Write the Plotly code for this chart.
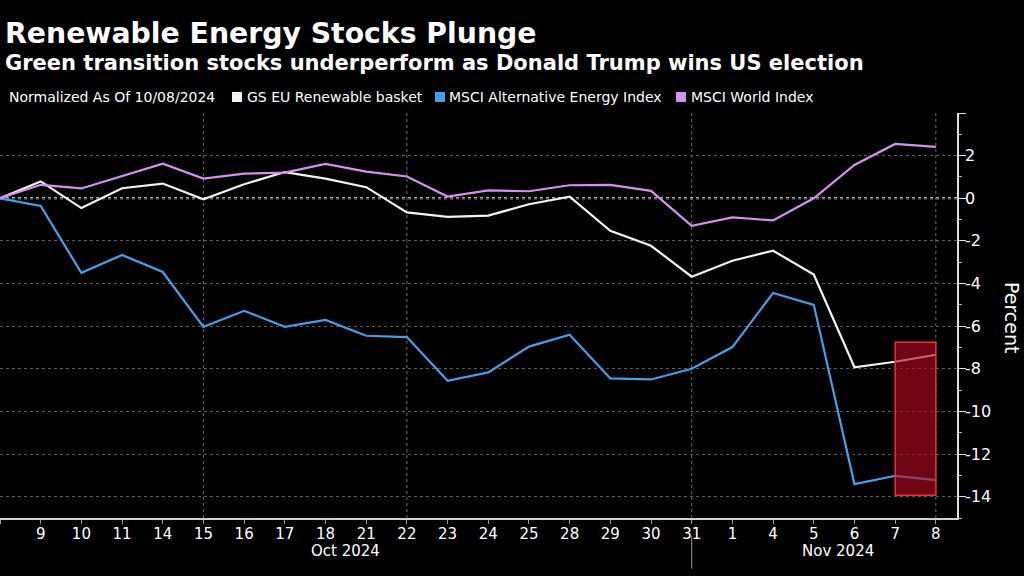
import plotly.graph_objects as go

dates = ["2024-10-08", "2024-10-09", "2024-10-10", "2024-10-11", "2024-10-14", "2024-10-15",
         "2024-10-16", "2024-10-17", "2024-10-18", "2024-10-21", "2024-10-22", "2024-10-23",
         "2024-10-24", "2024-10-25", "2024-10-28", "2024-10-29", "2024-10-30", "2024-10-31",
         "2024-11-01", "2024-11-04", "2024-11-05", "2024-11-06", "2024-11-07", "2024-11-08"]
day_labels = ["", "9", "10", "11", "14", "15", "16", "17", "18", "21", "22", "23",
              "24", "25", "28", "29", "30", "31", "1", "4", "5", "6", "7", "8"]

gs_eu_renewable = [0, 0.79, -0.46, 0.47, 0.69, -0.05, 0.66, 1.23, 0.92, 0.52, -0.66, -0.87,
                   -0.81, -0.28, 0.08, -1.53, -2.23, -3.68, -2.93, -2.46, -3.58, -7.93, -7.67, -7.34]
msci_alt_energy = [0, -0.36, -3.5, -2.66, -3.46, -6.03, -5.28, -6.03, -5.71, -6.45, -6.51, -8.56,
                   -8.17, -6.96, -6.40, -8.45, -8.5, -8.0, -6.98, -4.44, -5.0, -13.41, -13.02, -13.22]
msci_world = [0, 0.63, 0.46, 1.05, 1.62, 0.92, 1.16, 1.2, 1.61, 1.25, 1.02, 0.08,
              0.37, 0.33, 0.61, 0.63, 0.35, -1.29, -0.9, -1.04, 0.0, 1.56, 2.55, 2.41]

series_names = ["GS EU Renewable basket", "MSCI Alternative Energy Index", "MSCI World Index"]
series_colors = ["#f2f2f2", "#42a0ea", "#d690f0"]

y_ticks = [-14, -12, -10, -8, -6, -4, -2, 0, 2, 4]
y_ticktext = ["-14", "-12", "-10", "-8", "-6", "-4", "-2", "0", "2", ""]
vgrid_dates = ["2024-10-15", "2024-10-22", "2024-10-31", "2024-11-08"]
highlight_x = ["2024-11-07", "2024-11-08"]
highlight_y = [-13.93, -6.75]
month_labels = ["Oct 2024", "Nov 2024"]

REG = "DejaVu Sans, Verdana, sans-serif"
BOLD = "DejaVu Sans, Verdana, sans-serif"

fig = go.Figure()
for name, vals, col in zip(series_names, [gs_eu_renewable, msci_alt_energy, msci_world], series_colors):
    fig.add_trace(go.Scatter(x=dates, y=vals, mode="lines", name=name,
                             line=dict(color=col, width=2.2), showlegend=False))

shapes = []
for d in vgrid_dates:
    shapes.append(dict(type="line", xref="x", yref="paper", x0=d, x1=d, y0=0, y1=1,
                       line=dict(color="#6a6a6a", width=1, dash="dot"), layer="below"))
shapes.append(dict(type="line", xref="paper", yref="y", x0=0, x1=1, y0=0, y1=0,
                   line=dict(color="#e8e8e8", width=2, dash="dot"), layer="below"))
shapes.append(dict(type="rect", xref="x", yref="y", x0=highlight_x[0], x1=highlight_x[1],
                   y0=highlight_y[0], y1=highlight_y[1],
                   fillcolor="rgba(180,10,30,0.62)", line=dict(color="#e8303c", width=1.5),
                   layer="above"))
shapes.append(dict(type="line", xref="x", yref="paper", x0="2024-10-31", x1="2024-10-31",
                   y0=-0.045, y1=-0.125, line=dict(color="#9a9a9a", width=1)))

H = 405.0
def py(pix):
    return (518 - pix) / H
W = 957.0
def px(pix):
    return pix / W

annotations = [
    dict(text="<b>Renewable Energy Stocks Plunge</b>", x=px(3), y=py(33), xref="paper", yref="paper",
         xanchor="left", yanchor="middle", showarrow=False, font=dict(family=BOLD, size=28.3, color="white")),
    dict(text="<b>Green transition stocks underperform as Donald Trump wins US election</b>",
         x=px(3), y=py(63), xref="paper", yref="paper", xanchor="left", yanchor="middle",
         showarrow=False, font=dict(family=BOLD, size=21, color="white")),
    dict(text="Normalized As Of 10/08/2024", x=px(7), y=py(97), xref="paper", yref="paper",
         xanchor="left", yanchor="middle", showarrow=False, font=dict(family=REG, size=14, color="white")),
    dict(text="Percent", x=px(1012), y=py(318), xref="paper", yref="paper", textangle=90,
         xanchor="center", yanchor="middle", showarrow=False, font=dict(family=REG, size=19, color="white")),
]
legend_pos = [(232, 245), (435, 447), (676, 689)]
for (sx, tx), name, col in zip(legend_pos, series_names, series_colors):
    shapes.append(dict(type="rect", xref="paper", yref="paper", x0=px(sx), x1=px(sx + 10),
                       y0=py(102), y1=py(92), fillcolor=col, line=dict(width=0)))
    annotations.append(dict(text=name, x=px(tx), y=py(97), xref="paper", yref="paper",
                            xanchor="left", yanchor="middle", showarrow=False,
                            font=dict(family=REG, size=14, color="white")))
for lbl, xpix in zip(month_labels, [345, 838]):
    annotations.append(dict(text=lbl, x=px(xpix), y=py(551), xref="paper", yref="paper",
                            xanchor="center", yanchor="middle", showarrow=False,
                            font=dict(family=REG, size=15, color="white")))

fig.update_layout(
    width=1024, height=576,
    margin=dict(l=0, r=67, t=113, b=58),
    paper_bgcolor="black", plot_bgcolor="black",
    shapes=shapes, annotations=annotations,
    xaxis=dict(type="category", range=[0, 23.52], tickmode="array", tickvals=dates, ticktext=day_labels,
               showgrid=False, showline=True, linecolor="#cfcfcf", linewidth=1.5,
               ticks="outside", ticklen=4, tickcolor="#9a9a9a", ticklabelstandoff=-3,
               tickfont=dict(family=REG, size=15, color="white"), zeroline=False),
    yaxis=dict(side="right", range=[-15, 4], tickmode="array", tickvals=y_ticks, ticktext=y_ticktext,
               showgrid=True, gridcolor="#5a5a5a", griddash="dot", gridwidth=1,
               showline=True, linecolor="#e0e0e0", linewidth=1.5,
               ticks="outside", ticklen=7, tickcolor="#e0e0e0", ticklabelstandoff=-4,
               minor=dict(tickvals=[-15, -13, -11, -9, -7, -5, -3, -1, 1, 3], ticks="outside",
                          ticklen=3, tickcolor="#bdbdbd", showgrid=False),
               tickfont=dict(family=REG, size=16, color="white"), zeroline=False),
    showlegend=False,
)

fig.write_html("out.html", config={"displayModeBar": False},
               post_script="document.body.style.margin='0';document.body.style.padding='0';document.body.style.overflow='hidden';")
